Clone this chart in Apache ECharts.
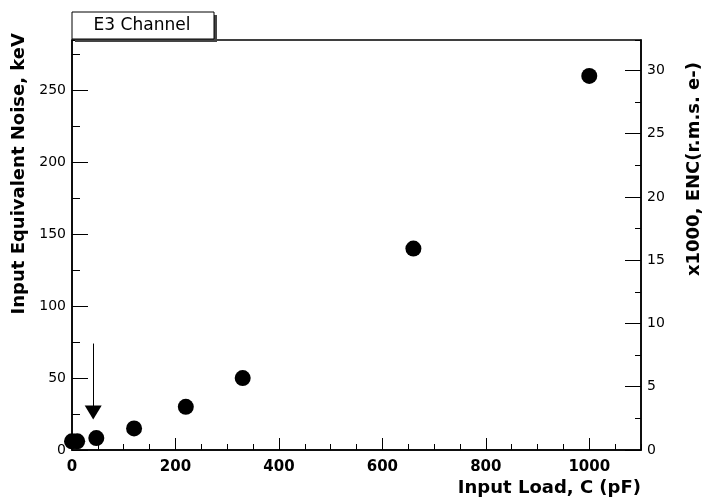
<!DOCTYPE html>
<html>
<head>
<meta charset="utf-8">
<script src="https://cdn.jsdelivr.net/npm/echarts@6/dist/echarts.min.js"></script>
<style>
  html, body { margin: 0; padding: 0; background: #fff; }
  #main { width: 704px; height: 501px; }
</style>
</head>
<body>
<div id="main"></div>
<script>
// 数据：输入电容 (pF) 与等效噪声 (keV)
var loadPF = [0, 10, 47, 120, 220, 330, 660, 1000];
var noiseKeV = [6, 6, 8.3, 15, 30, 50, 140, 260];
// 箭头：起点与终点 [C, keV]
var arrowFrom = [41, 74];
var arrowTo = [41, 26];

var titleText = 'E3 Channel';
var xName = 'Input Load, C (pF)';
var yName = 'Input Equivalent Noise, keV';
var y2Name = 'x1000, ENC(r.m.s. e-)';

var black = '#000';
var tickFont = { fontFamily: 'DejaVu Sans', fontSize: 14, color: black };
var nameFont = { fontFamily: 'DejaVu Sans', fontWeight: 'bold', fontSize: 18, color: black };

function points() {
    let data = [];
    for (let i = 0; i < loadPF.length; i++) {
        data.push([loadPF[i], noiseKeV[i]]);
    }
    return data;
}

function plain(v) {
    return String(v);
}

// 只画刻度的辅助轴（次刻度）
function minorAxis(pos, min, max, step, len) {
    return {
        type: 'value', position: pos, min: min, max: max, interval: step,
        axisLine: { show: false },
        axisTick: { show: true, inside: true, length: len, lineStyle: { color: black, width: 1 } },
        axisLabel: { show: false },
        splitLine: { show: false }
    };
}

let chart = echarts.init(document.getElementById('main'));
let option = {
    animation: false,
    backgroundColor: '#fff',
    grid: {
        left: 72, right: 63, top: 40, bottom: 51,
        show: true, borderColor: black, borderWidth: 1.5, backgroundColor: 'transparent'
    },
    graphic: [
        { type: 'rect', shape: { x: 75, y: 15, width: 142, height: 27 }, style: { fill: '#444' }, z: 100 },
        { type: 'rect', shape: { x: 72, y: 12, width: 142, height: 27 }, style: { fill: '#fff', stroke: black, lineWidth: 1 }, z: 101 },
        {
            type: 'text', x: 142, y: 26, z: 102,
            style: { text: titleText, align: 'center', verticalAlign: 'middle', fontFamily: 'DejaVu Sans', fontSize: 17, fill: black }
        }
    ],
    xAxis: [
        {
            type: 'value', position: 'bottom', min: 0, max: 1100, interval: 200,
            axisLine: { show: true, lineStyle: { color: black, width: 1.5 } },
            axisTick: { show: true, inside: true, length: 12, lineStyle: { color: black, width: 1 } },
            axisLabel: Object.assign({ margin: 10, showMaxLabel: false, formatter: plain }, tickFont, { fontWeight: 'bold', fontSize: 15 }),
            splitLine: { show: false },
            name: xName, nameLocation: 'end', nameGap: 0,
            nameTextStyle: Object.assign({ align: 'right', verticalAlign: 'top', padding: [29, 0, 0, 0] }, nameFont)
        },
        minorAxis('bottom', 0, 1100, 50, 6)
    ],
    yAxis: [
        {
            type: 'value', position: 'left', min: 0, max: 285, interval: 50,
            axisLine: { show: true, lineStyle: { color: black, width: 1.5 } },
            axisTick: { show: true, inside: true, length: 16, lineStyle: { color: black, width: 1 } },
            axisLabel: Object.assign({ margin: 6, showMaxLabel: false, formatter: plain }, tickFont),
            splitLine: { show: false },
            name: yName, nameLocation: 'end', nameGap: 7, nameRotate: 90,
            nameTextStyle: Object.assign({ align: 'right', verticalAlign: 'bottom', padding: [0, 0, 44, 0] }, nameFont)
        },
        minorAxis('left', 0, 285, 25, 8),
        {
            type: 'value', position: 'right', min: 0, max: 32.4, interval: 5,
            axisLine: { show: true, lineStyle: { color: black, width: 1.5 } },
            axisTick: { show: true, inside: true, length: 16, lineStyle: { color: black, width: 1 } },
            axisLabel: Object.assign({ margin: 6, showMaxLabel: false, formatter: plain }, tickFont),
            splitLine: { show: false },
            name: y2Name, nameLocation: 'end', nameGap: -22, nameRotate: 90,
            nameTextStyle: Object.assign({ align: 'right', verticalAlign: 'top', padding: [44, 0, 0, 0] }, nameFont)
        },
        minorAxis('right', 0, 32.4, 2.5, 6)
    ],
    series: [
        {
            type: 'scatter',
            xAxisIndex: 0, yAxisIndex: 0,
            symbol: 'circle', symbolSize: 16,
            itemStyle: { color: black, opacity: 1 },
            data: points(),
            markLine: {
                silent: true,
                symbol: ['none', 'triangle'],
                symbolSize: [17, 14],
                label: { show: false },
                lineStyle: { color: black, width: 1, type: 'solid', opacity: 1 },
                data: [[{ coord: arrowFrom }, { coord: arrowTo }]]
            }
        }
    ]
};
chart.setOption(option);
</script>
</body>
</html>
